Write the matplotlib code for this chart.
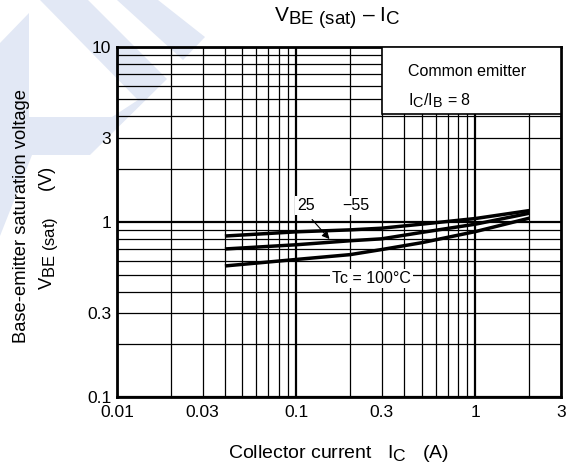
import matplotlib
matplotlib.use("Agg")
import matplotlib.pyplot as plt
import matplotlib._mathtext as mt
from matplotlib.patches import Polygon, Rectangle
from matplotlib.ticker import LogLocator, FuncFormatter
import numpy as np

plt.rcParams['font.family'] = ['Liberation Sans', 'DejaVu Sans']
plt.rcParams['mathtext.fontset'] = 'custom'
plt.rcParams['mathtext.rm'] = 'Liberation Sans'
plt.rcParams['mathtext.it'] = 'Liberation Sans'
plt.rcParams['mathtext.default'] = 'rm'
mt.SHRINK_FACTOR = 0.9  # subscripts in the datasheet are only a bit smaller

# collector current (A) and VBE(sat) (V) for each case temperature
ic = [0.04, 0.1, 0.2, 0.3, 0.5, 1.0, 2.0]
vbe_m55 = [0.83, 0.877, 0.90, 0.92, 0.97, 1.045, 1.16]
vbe_25 = [0.70, 0.74, 0.78, 0.80, 0.87, 0.97, 1.12]
vbe_100 = [0.56, 0.61, 0.65, 0.695, 0.76, 0.88, 1.05]

W, H = 569, 473
fig = plt.figure(figsize=(W / 100, H / 100), dpi=100)

# light blue watermark in the top left corner (pixel coords)
wm = '#e2e8f5'
shapes = [
    [(117, 0), (158, 0), (205, 37), (183, 60)],
    [(40, 0), (88, 0), (167, 79), (90, 155), (0, 155), (0, 117), (112, 117), (138, 100)],
    [(0, 43), (29, 13), (29, 117), (0, 117)],
    [(0, 155), (32, 155), (0, 236)],
]
for s in shapes:
    pts = [(x / W, 1 - y / H) for x, y in s]
    fig.add_artist(Polygon(pts, closed=True, transform=fig.transFigure,
                           facecolor=wm, edgecolor='none', zorder=0))

ax = fig.add_axes([117 / W, 1 - 397 / H, 444 / W, 350.3 / H])
ax.set_facecolor('none')
ax.set_xscale('log')
ax.set_yscale('log')
ax.set_xlim(0.01, 3)
ax.set_ylim(0.1, 10)

fmt = FuncFormatter(lambda v, p: '%g' % v)
def fmt3(v, p):
    m = v / 10 ** np.floor(np.log10(v) + 1e-9)
    return '%g' % v if abs(m - 3) < 1e-6 else ''

for axis in (ax.xaxis, ax.yaxis):
    axis.set_major_locator(LogLocator(base=10))
    axis.set_minor_locator(LogLocator(base=10, subs=np.arange(2, 10)))
    axis.set_major_formatter(fmt)
    axis.set_minor_formatter(FuncFormatter(fmt3))

ax.tick_params(which='both', length=0, labelsize=12.5, colors='black', pad=4)
ax.tick_params(axis='x', which='both', pad=6)
ax.grid(which='major', color='black', lw=1.6, zorder=1)
ax.grid(which='minor', color='black', lw=0.9, zorder=1)
ax.set_axisbelow(True)
for sp in ax.spines.values():
    sp.set_linewidth(2.0)

for v in (vbe_m55, vbe_25, vbe_100):
    ax.plot(ic, v, color='black', lw=2.5, solid_capstyle='butt', zorder=3)

# condition box
ax.add_patch(Rectangle((0.597, 0.808), 0.403, 0.192, transform=ax.transAxes,
                       facecolor='white', edgecolor='black', lw=1.2, zorder=4))
ax.text(0.655, 0.93, 'Common emitter', transform=ax.transAxes, fontsize=11.5,
        va='center', zorder=5)
ax.text(0.655, 0.845, '$I_C/I_B$ = 8', transform=ax.transAxes, fontsize=11.5,
        va='center', zorder=5)

bb = dict(facecolor='white', edgecolor='none', pad=1.5)
ax.text(0.1137, 1.245, '25', fontsize=11.5, ha='center', va='center', bbox=bb, zorder=5)
ax.text(0.2137, 1.245, '\u221255', fontsize=11.5, ha='center', va='center', bbox=bb, zorder=5)
ax.text(0.264, 0.477, 'Tc = 100\u00b0C', fontsize=11.5, ha='center', va='center', bbox=bb, zorder=5)
ax.annotate('', xy=(0.157, 0.776), xytext=(0.1197, 1.06),
            arrowprops=dict(arrowstyle='-|>', color='black', lw=0.8, mutation_scale=11),
            zorder=5)

fig.text(339 / W, 1 - 453 / H, 'Collector current   $I_C$   (A)', fontsize=14,
         ha='center', va='center')
fig.text(22 / W, 1 - 216 / H, 'Base-emitter saturation voltage', fontsize=13.2,
         rotation=90, ha='center', va='center')
fig.text(49 / W, 1 - 228 / H, '$V_{BE\\ (sat)}$     (V)', fontsize=13.2,
         rotation=90, ha='center', va='center')
fig.text(337 / W, 1 - 18 / H, '$V_{BE\\ (sat)}$ \u2013 $I_C$', fontsize=15,
         ha='center', va='center')

fig.savefig('out.png', dpi=100)
